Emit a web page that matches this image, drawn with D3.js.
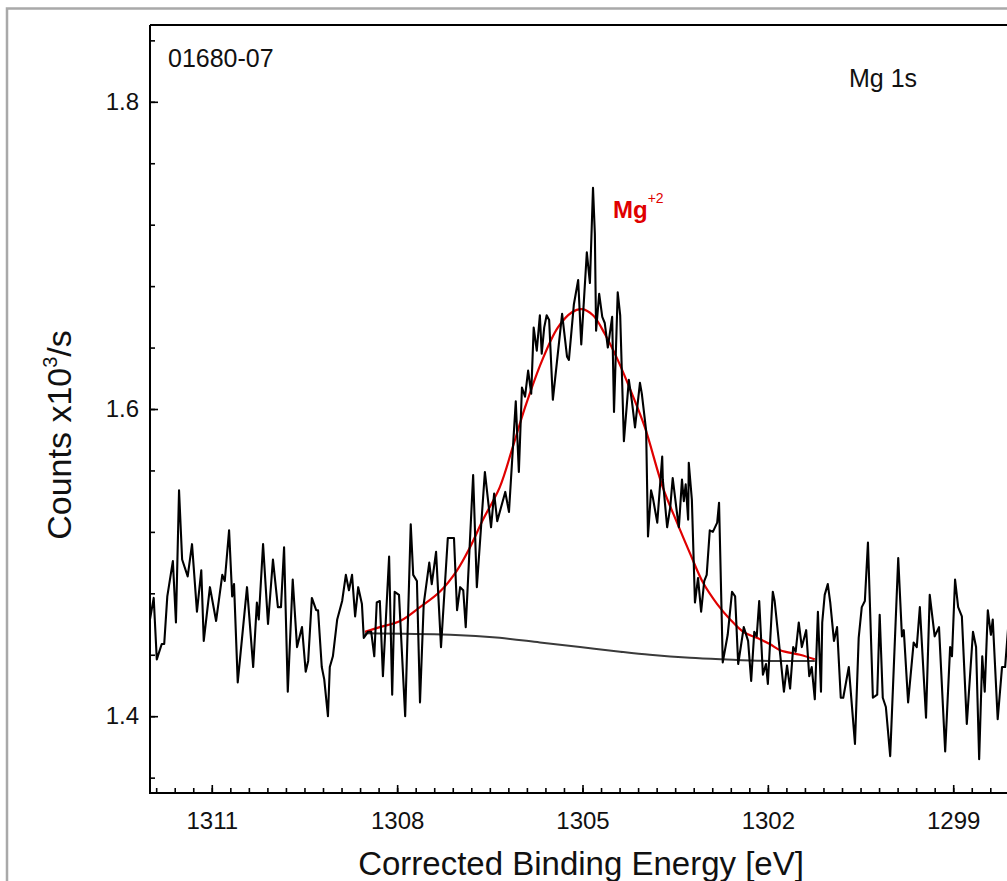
<!DOCTYPE html>
<html lang="en">
<head>
    <meta charset="UTF-8">
    <title>Mg 1s</title>
    <style>
        body { margin: 0; background: #fff; overflow: hidden; }
        svg { display: block; font-family: "Liberation Sans", Arial, sans-serif; }
        .frame { fill: none; stroke: #a9a9a9; stroke-width: 2.5px; }
        .axis-line { stroke: #000; stroke-width: 2px; fill: none; }
        .tick line { stroke: #000; stroke-width: 1.6px; }
        .tick-label { font-size: 24px; fill: #111; }
        .spectrum { fill: none; stroke: #000; stroke-width: 2.1px; stroke-linejoin: round; }
        .fit { fill: none; stroke: #e00000; stroke-width: 2.2px; }
        .bg { fill: none; stroke: #3a3a3a; stroke-width: 2px; }
    </style>
    <script src="https://d3js.org/d3.v7.min.js"></script>
</head>
<body>
    <script>
        // measured spectrum
        const energy = [1312.00, 1311.94, 1311.89, 1311.81, 1311.77, 1311.72, 1311.63, 1311.58, 1311.53, 1311.48,
            1311.39, 1311.32, 1311.24, 1311.17, 1311.13, 1311.03, 1310.93, 1310.83, 1310.79, 1310.72,
            1310.67, 1310.64, 1310.58, 1310.43, 1310.33, 1310.27, 1310.24, 1310.17, 1310.09, 1310.01,
            1309.93, 1309.88, 1309.83, 1309.77, 1309.69, 1309.62, 1309.54, 1309.48, 1309.44, 1309.38,
            1309.31, 1309.28, 1309.22, 1309.18, 1309.12, 1309.09, 1309.04, 1308.97, 1308.89, 1308.83,
            1308.78, 1308.73, 1308.68, 1308.63, 1308.57, 1308.54, 1308.47, 1308.42, 1308.37, 1308.33,
            1308.28, 1308.23, 1308.13, 1308.08, 1308.04, 1307.97,
            1307.87, 1307.78, 1307.74, 1307.68, 1307.63, 1307.57, 1307.48, 1307.44, 1307.37, 1307.29,
            1307.18, 1307.08, 1307.03, 1306.98, 1306.93, 1306.89, 1306.77, 1306.71, 1306.58, 1306.48,
            1306.43, 1306.38, 1306.25, 1306.19, 1306.08, 1306.03, 1305.98,
            1305.93, 1305.88, 1305.83, 1305.79, 1305.74, 1305.69, 1305.66, 1305.62, 1305.58, 1305.54,
            1305.48, 1305.33, 1305.25, 1305.22, 1305.14, 1305.07, 1305.02, 1304.99, 1304.93, 1304.88,
            1304.83, 1304.80, 1304.78, 1304.73, 1304.68, 1304.64, 1304.59, 1304.52, 1304.49, 1304.43,
            1304.39, 1304.33, 1304.25, 1304.20, 1304.15, 1304.07, 1304.04, 1303.97,
            1303.94, 1303.89, 1303.86, 1303.79, 1303.71, 1303.70, 1303.63, 1303.58, 1303.54, 1303.47,
            1303.44, 1303.39, 1303.36, 1303.33, 1303.29, 1303.28, 1303.23, 1303.18, 1303.13, 1303.08,
            1303.03, 1302.99, 1302.94, 1302.89, 1302.82, 1302.79, 1302.73, 1302.65, 1302.58, 1302.53,
            1302.48, 1302.39, 1302.32, 1302.27, 1302.22, 1302.18, 1302.14, 1302.08, 1302.03, 1302.00,
            1301.92, 1301.89, 1301.80,
            1301.74, 1301.69, 1301.64, 1301.59, 1301.55, 1301.50, 1301.45, 1301.38, 1301.33, 1301.29,
            1301.24, 1301.19, 1301.14, 1301.12, 1301.08, 1301.03, 1300.99, 1300.93, 1300.88, 1300.82,
            1300.78, 1300.69, 1300.59, 1300.53, 1300.48, 1300.43, 1300.38, 1300.30, 1300.23, 1300.19,
            1300.14, 1300.09, 1300.02, 1299.89, 1299.83, 1299.80, 1299.73, 1299.64, 1299.59, 1299.54,
            1299.44, 1299.38, 1299.30, 1299.23, 1299.13, 1299.05, 1299.02, 1298.97, 1298.92, 1298.86,
            1298.78, 1298.68, 1298.63, 1298.58, 1298.53, 1298.49, 1298.44, 1298.39, 1298.36, 1298.28,
            1298.21, 1298.16, 1298.08];

        const counts = [1.463, 1.477, 1.437, 1.447, 1.447, 1.478, 1.501, 1.461, 1.547, 1.502,
            1.491, 1.512, 1.468, 1.495, 1.449, 1.484, 1.462, 1.492, 1.488, 1.521,
            1.478, 1.486, 1.422, 1.484, 1.432, 1.474, 1.463, 1.512, 1.460, 1.502,
            1.471, 1.471, 1.510, 1.416, 1.489, 1.445, 1.458, 1.429, 1.436, 1.477,
            1.469, 1.469, 1.432, 1.424, 1.400, 1.432, 1.439, 1.463, 1.475, 1.492,
            1.482, 1.492, 1.465, 1.484, 1.473, 1.451, 1.455, 1.455, 1.439, 1.474,
            1.475, 1.426, 1.504, 1.414, 1.481, 1.479,
            1.400, 1.525, 1.492, 1.488, 1.409, 1.473, 1.500, 1.486, 1.507, 1.445,
            1.516, 1.516, 1.469, 1.484, 1.482, 1.458, 1.557, 1.484, 1.559, 1.523,
            1.545, 1.527, 1.546, 1.533, 1.605, 1.559, 1.614,
            1.608, 1.625, 1.610, 1.653, 1.638, 1.661, 1.636, 1.653, 1.661, 1.658,
            1.606, 1.662, 1.634, 1.632, 1.668, 1.684, 1.642, 1.662, 1.702, 1.682,
            1.744, 1.714, 1.651, 1.675, 1.660, 1.656, 1.640, 1.660, 1.598, 1.676,
            1.661, 1.579, 1.619, 1.605, 1.588, 1.617, 1.610, 1.586,
            1.517, 1.547, 1.542, 1.526, 1.569, 1.554, 1.523, 1.536, 1.555, 1.532,
            1.523, 1.554, 1.540, 1.551, 1.528, 1.565, 1.541, 1.474, 1.490, 1.468,
            1.488, 1.492, 1.521, 1.520, 1.526, 1.539, 1.435, 1.453, 1.481, 1.478,
            1.434, 1.458, 1.449, 1.423, 1.455, 1.452, 1.475, 1.427, 1.434, 1.421,
            1.481, 1.475, 1.440,
            1.416, 1.433, 1.418, 1.445, 1.442, 1.461, 1.445, 1.456, 1.426, 1.432,
            1.411, 1.468, 1.416, 1.461, 1.479, 1.486, 1.474, 1.449, 1.458, 1.412,
            1.412, 1.432, 1.382, 1.451, 1.471, 1.475, 1.513, 1.412, 1.414, 1.466,
            1.412, 1.406, 1.374, 1.503, 1.452, 1.456, 1.409, 1.448, 1.445, 1.471,
            1.399, 1.479, 1.452, 1.458, 1.377, 1.445, 1.439, 1.489, 1.471, 1.465,
            1.395, 1.455, 1.445, 1.372, 1.439, 1.416, 1.469, 1.453, 1.463, 1.398,
            1.432, 1.432, 1.474];

        // Mg+2 fitted component envelope
        const fitEnergy = [1308.52, 1308.28, 1307.95, 1307.63, 1307.31, 1307.03, 1306.82, 1306.61, 1306.34, 1306.13,
            1305.93, 1305.66, 1305.40, 1305.17, 1305.01, 1304.83, 1304.64, 1304.43, 1304.20, 1303.99,
            1303.70, 1303.47, 1303.26, 1303.05, 1302.82, 1302.61, 1302.40, 1302.18, 1301.97, 1301.80,
            1301.48, 1301.24];
        const fitCounts = [1.455, 1.458, 1.462, 1.471, 1.481, 1.495, 1.510, 1.528, 1.549, 1.575,
            1.601, 1.631, 1.653, 1.663, 1.665, 1.661, 1.649, 1.632, 1.610, 1.588,
            1.549, 1.526, 1.506, 1.487, 1.473, 1.463, 1.455, 1.451, 1.447, 1.443,
            1.440, 1.437];

        // background under the peak
        const bgEnergy = [1308.52, 1307.14, 1306.34, 1305.69, 1305.04, 1304.39, 1303.91, 1303.26, 1302.73, 1301.97, 1301.24];
        const bgCounts = [1.454, 1.453, 1.451, 1.448, 1.445, 1.442, 1.440, 1.438, 1.437, 1.436, 1.436];

        const xTicks = [1311, 1308, 1305, 1302, 1299];
        const yTicks = [1.4, 1.6, 1.8];

        const W = 1007, H = 881;
        const plot = { left: 150, top: 25, right: 1015, bottom: 793 };

        const x = d3.scaleLinear().domain([1312, 1298]).range([plot.left, plot.right]);
        const y = d3.scaleLinear().domain([1.35, 1.85]).range([plot.bottom, plot.top]);

        const svg = d3.select("body").append("svg")
            .attr("width", W).attr("height", H);

        // outer window frame
        svg.append("rect").attr("class", "frame")
            .attr("x", 7).attr("y", 8.5).attr("width", 1100).attr("height", 1000);

        svg.append("clipPath").attr("id", "plot-clip")
            .append("rect")
            .attr("x", plot.left).attr("y", plot.top)
            .attr("width", plot.right - plot.left).attr("height", plot.bottom - plot.top);

        const marks = svg.append("g").attr("clip-path", "url(#plot-clip)");

        const line = d3.line().x(d => x(d[0])).y(d => y(d[1]));

        marks.append("path").attr("class", "bg")
            .attr("d", line.curve(d3.curveMonotoneX)(d3.zip(bgEnergy, bgCounts)));
        marks.append("path").attr("class", "fit")
            .attr("d", line.curve(d3.curveCatmullRom)(d3.zip(fitEnergy, fitCounts)));
        marks.append("path").attr("class", "spectrum")
            .attr("d", line.curve(d3.curveLinear)(d3.zip(energy, counts)));

        // axes, ticks point inward
        const xAxis = d3.axisBottom(x).tickValues(xTicks).tickSize(-8).tickPadding(19)
            .tickFormat(d3.format("d"));
        const xMinor = d3.axisBottom(x).tickValues(d3.range(0, 47).map(i => 1311.9 - i * 0.3))
            .tickSize(-5).tickFormat("");
        const yAxis = d3.axisLeft(y).tickValues(yTicks).tickSize(-8).tickPadding(11)
            .tickFormat(d3.format(".1f"));
        const yMinor = d3.axisLeft(y).tickValues(d3.range(0, 13).map(i => 1.36 + i * 0.04))
            .tickSize(-5).tickFormat("");

        [[xMinor, `translate(0,${plot.bottom})`], [xAxis, `translate(0,${plot.bottom})`],
         [yMinor, `translate(${plot.left},0)`], [yAxis, `translate(${plot.left},0)`]]
            .forEach(([ax, tr]) => {
                const g = svg.append("g").attr("transform", tr).call(ax)
                    .attr("font-family", null).attr("font-size", null);
                g.select(".domain").remove();
                g.selectAll(".tick text").attr("class", "tick-label").attr("fill", null);
            });

        svg.append("path").attr("class", "axis-line")
            .attr("d", `M${plot.left},${plot.top}H${W + 10}M${plot.left},${plot.top}V${plot.bottom}H${W + 10}`);

        // labels
        svg.append("text").attr("x", 168).attr("y", 67)
            .attr("font-size", 25).attr("fill", "#111").text("01680-07");
        svg.append("text").attr("x", 849).attr("y", 87)
            .attr("font-size", 25).attr("fill", "#111").text("Mg 1s");

        const peakLabel = svg.append("text").attr("x", 613).attr("y", 218)
            .attr("fill", "#e00000").attr("font-weight", "bold").attr("font-size", 24);
        peakLabel.append("tspan").text("Mg");
        peakLabel.append("tspan").attr("font-size", 14).attr("dy", -15).attr("font-weight", "normal").text("+2");

        svg.append("text").attr("x", 581).attr("y", 875).attr("text-anchor", "middle")
            .attr("font-size", 33).attr("fill", "#111").text("Corrected Binding Energy [eV]");

        const yTitle = svg.append("text")
            .attr("transform", "translate(71,435) rotate(-90)")
            .attr("text-anchor", "middle").attr("font-size", 34).attr("fill", "#111");
        yTitle.append("tspan").text("Counts x10");
        yTitle.append("tspan").attr("font-size", 20).attr("dy", -14).text("3");
        yTitle.append("tspan").attr("dy", 14).text("/s");
    </script>
</body>
</html>
